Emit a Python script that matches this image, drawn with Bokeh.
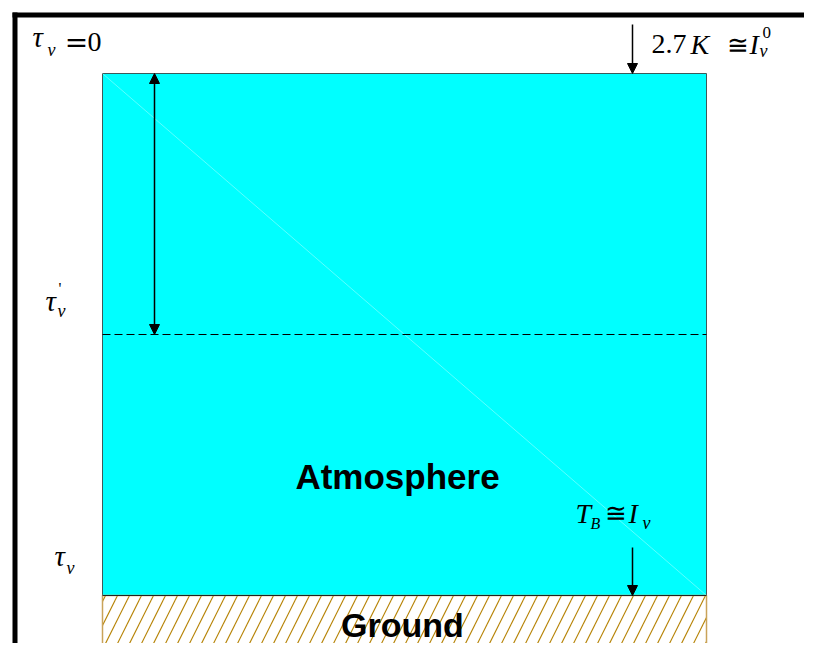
from bokeh.plotting import figure
from bokeh.models import Range1d, Arrow, NormalHead
from bokeh.core.properties import value
from bokeh.embed import file_html
from bokeh.resources import INLINE

# ---- diagram data (layer boundaries in diagram units = pixels of the sketch) ----
layer_names = ["Atmosphere", "Ground"]
layer_x = [102, 706]            # horizontal extent of the column
atmos_top = 73                  # tau = 0
tau_prime_level = 334           # intermediate level tau'
ground_top = 595                # tau (surface)
ground_bottom = 657

SERIF = value("Liberation Serif")
SANS = value("Liberation Sans")
MATH = value("DejaVu Serif")

p = figure(width=804, height=643, output_backend="svg", toolbar_location=None,
           x_range=Range1d(0, 804), y_range=Range1d(643, 0), min_border=0)
p.axis.visible = False
p.grid.visible = False
p.outline_line_color = None
p.background_fill_color = "white"
p.border_fill_color = "white"

# frame (left and top thick black bars)
p.quad(left=[12], right=[804], top=[12], bottom=[17], fill_color="black", line_color=None)
p.quad(left=[12], right=[17], top=[12], bottom=[643], fill_color="black", line_color=None)

# atmosphere block
p.quad(left=[layer_x[0]], right=[layer_x[1]], top=[atmos_top], bottom=[ground_top],
       fill_color="#00ffff", line_color="#3c5a5a", line_width=1)
# faint diagonal
p.line(x=[layer_x[0], layer_x[1]], y=[atmos_top, ground_top], line_color="white",
       line_alpha=0.45, line_width=0.8)

# ground block (hatched)
p.quad(left=[layer_x[0]], right=[layer_x[1]], top=[ground_top], bottom=[ground_bottom],
       fill_color="white", line_color="#c9a35a", line_width=1.5,
       hatch_pattern="/", hatch_color="#b8860b", hatch_scale=24, hatch_weight=1.2)
p.line(x=[layer_x[0], layer_x[1]], y=[ground_top, ground_top], line_color="#222222", line_width=1)

# dashed level tau'
p.line(x=[layer_x[0], layer_x[1]], y=[tau_prime_level, tau_prime_level],
       line_color="black", line_width=1, line_dash="8 4")

# arrows
def head():
    return NormalHead(size=10, fill_color="black", line_color="black", line_width=1)

p.add_layout(Arrow(start=head(), end=head(), x_start=154, y_start=tau_prime_level,
                   x_end=154, y_end=atmos_top, line_color="black", line_width=1.5))
p.add_layout(Arrow(end=head(), x_start=632, y_start=24, x_end=632, y_end=atmos_top,
                   line_color="black", line_width=1.5))
p.add_layout(Arrow(end=head(), x_start=632, y_start=547, x_end=632, y_end=ground_top,
                   line_color="black", line_width=1.5))

def t(x, y, s, size, italic=False, font=SERIF, align="left", bold=False, color="black"):
    style = "italic" if italic else ("bold" if bold else "normal")
    # y is the intended baseline; the rendered alphabetic baseline sits lower, so lift it
    p.text(x=[x], y=[y - 0.33 * size], text=[s], text_font=font, text_font_size=f"{size}px",
           text_font_style=style, text_align=align, text_baseline="alphabetic",
           text_color=color)

# tau_nu = 0
t(32, 46, "τ", 29, italic=True)
t(47, 55, "ν", 18, italic=True)
t(76, 51, "=", 28, align="center", font=MATH)
t(87, 51, "0", 28)

# 2.7K ≅ I_nu^0
t(651, 53, "2.7", 28)
t(690, 53, "K", 28, italic=True)
t(737, 53, "≅", 26, align="center", font=MATH)
t(749, 53, "I", 28, italic=True)
t(762, 38, "0", 17)
t(759, 56, "ν", 18, italic=True)

# tau'_nu
t(45, 310, "τ", 29, italic=True)
t(58, 293, "'", 16)
t(57, 316, "ν", 18, italic=True)

# tau_nu (surface)
t(54, 565, "τ", 29, italic=True)
t(66, 573, "ν", 18, italic=True)

# T_B ≅ I_nu
t(575, 522, "T", 28, italic=True)
t(590, 528, "B", 16, italic=True)
t(615, 521, "≅", 26, align="center", font=MATH)
t(628, 522, "I", 28, italic=True)
t(642, 528, "ν", 18, italic=True)

# layer labels
t(397, 488, layer_names[0], 35, bold=True, font=SANS, align="center")
t(402, 636, layer_names[1], 34, bold=True, font=SANS, align="center")

open("out.html", "w").write(file_html(p, INLINE))
